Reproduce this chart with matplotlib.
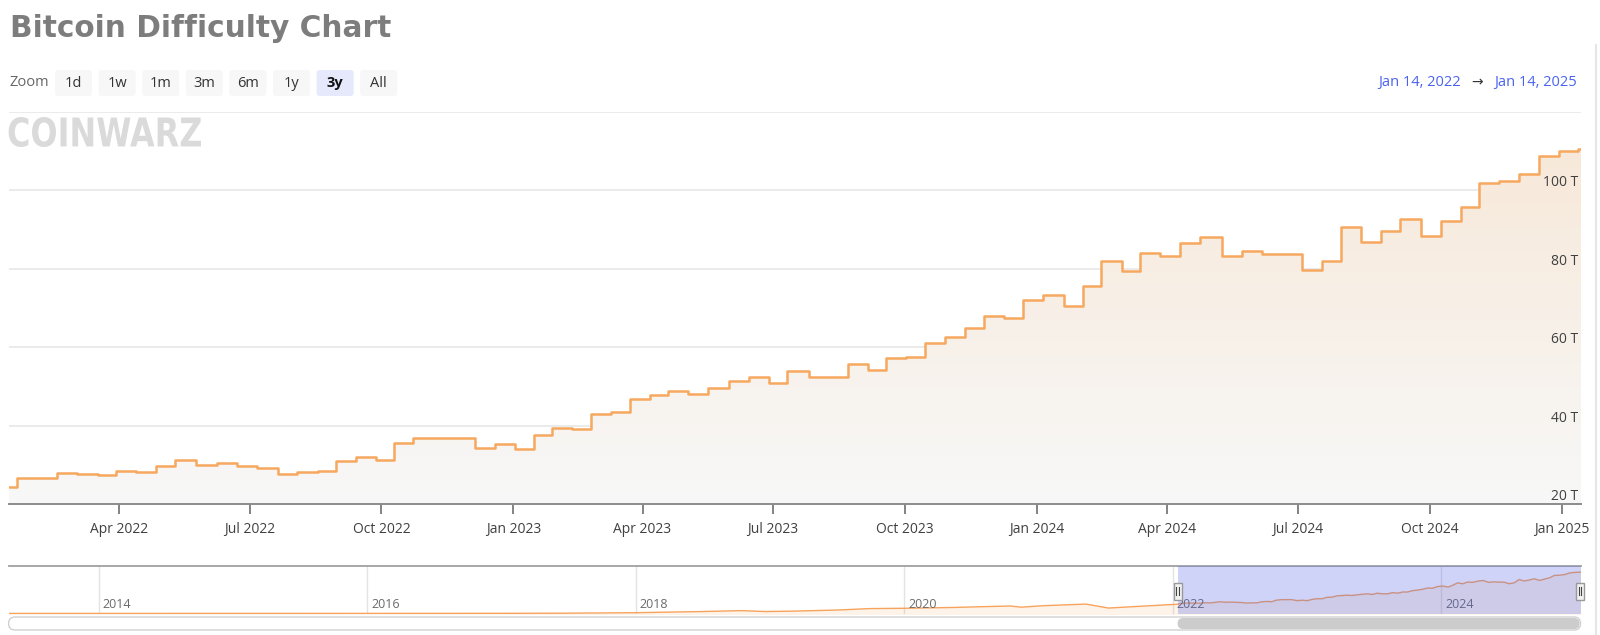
import matplotlib
matplotlib.use("Agg")
import matplotlib.pyplot as plt
import matplotlib.dates as mdates
import matplotlib.transforms as mtransforms
import numpy as np
import pandas as pd
from matplotlib.patches import FancyBboxPatch, Rectangle, PathPatch
from matplotlib.textpath import TextPath
from matplotlib.font_manager import FontProperties
from matplotlib.transforms import Affine2D

W, H, DPI = 1600, 635, 100

# ------------------------------------------------------------------ data
step_dates = [
    "2022-01-14", "2022-01-20", "2022-02-17", "2022-03-03", "2022-03-17", "2022-03-30",
    "2022-04-13", "2022-04-27", "2022-05-10", "2022-05-25", "2022-06-08", "2022-06-22",
    "2022-07-06", "2022-07-21", "2022-08-03", "2022-08-18", "2022-08-30", "2022-09-13",
    "2022-09-27", "2022-10-10", "2022-10-23", "2022-11-20", "2022-12-05", "2022-12-19",
    "2023-01-02", "2023-01-15", "2023-01-28", "2023-02-11", "2023-02-24", "2023-03-10",
    "2023-03-23", "2023-04-06", "2023-04-19", "2023-05-03", "2023-05-17", "2023-05-31",
    "2023-06-14", "2023-06-28", "2023-07-11", "2023-07-26", "2023-08-08", "2023-08-22",
    "2023-09-05", "2023-09-18", "2023-10-02", "2023-10-15", "2023-10-29", "2023-11-12",
    "2023-11-25", "2023-12-09", "2023-12-22", "2024-01-05", "2024-01-20", "2024-02-02",
    "2024-02-15", "2024-02-29", "2024-03-13", "2024-03-27", "2024-04-10", "2024-04-24",
    "2024-05-09", "2024-05-23", "2024-06-06", "2024-06-20", "2024-07-04", "2024-07-18",
    "2024-07-31", "2024-08-14", "2024-08-28", "2024-09-10", "2024-09-25", "2024-10-09",
    "2024-10-23", "2024-11-04", "2024-11-18", "2024-12-02", "2024-12-16", "2024-12-30",
    "2025-01-12",
]
difficulty_t = [
    24.5, 26.7, 28.0, 27.6, 27.5, 28.6,
    28.2, 29.8, 31.3, 29.9, 30.4, 29.7,
    29.3, 27.8, 28.3, 28.4, 31.0, 32.1,
    31.4, 35.6, 36.9, 37.0, 34.3, 35.4,
    34.2, 37.6, 39.4, 39.2, 43.1, 43.6,
    46.9, 47.9, 48.8, 48.1, 49.7, 51.3,
    52.5, 50.8, 54.0, 52.5, 52.4, 55.7,
    54.2, 57.3, 57.4, 61.0, 62.6, 64.8,
    68.0, 67.5, 72.0, 73.3, 70.5, 75.6,
    81.9, 79.4, 84.1, 83.2, 86.5, 88.2,
    83.2, 84.6, 83.8, 83.7, 79.6, 82.0,
    90.7, 86.9, 89.6, 92.7, 88.4, 92.2,
    95.7, 101.8, 102.3, 104.1, 108.6, 109.9,
    110.5,
]

# long history shown in the navigator (before the 3y window)
nav_hist_dates = [
    "2013-05-01", "2014-01-01", "2015-01-01", "2016-01-01", "2017-01-01", "2017-07-01",
    "2018-01-01", "2018-07-01", "2018-10-15", "2018-12-20", "2019-03-01", "2019-07-01",
    "2019-10-01", "2020-01-01", "2020-05-15", "2020-07-01", "2020-10-15", "2020-11-15",
    "2021-01-15", "2021-05-10", "2021-07-10", "2021-10-01", "2022-01-01",
]
nav_hist_t = [
    0.0, 0.0, 0.04, 0.1, 0.3, 0.7,
    2.0, 5.1, 7.5, 5.1, 6.1, 9.0,
    13.0, 13.8, 16.0, 17.3, 19.9, 16.8,
    20.8, 25.0, 14.4, 19.0, 24.0,
]

x_tick_dates = ["2022-04-01", "2022-07-01", "2022-10-01", "2023-01-01", "2023-04-01",
                "2023-07-01", "2023-10-01", "2024-01-01", "2024-04-01", "2024-07-01",
                "2024-10-01", "2025-01-01"]
y_ticks = [20, 40, 60, 80, 100, 120]
y_labels = ["20 T", "40 T", "60 T", "80 T", "100 T", ""]
nav_years = [2014, 2016, 2018, 2020, 2022, 2024]
zoom_buttons = ["1d", "1w", "1m", "3m", "6m", "1y", "3y", "All"]
selected_button = "3y"
title_text = "Bitcoin Difficulty Chart"
logo_text = "COINWARZ"
range_start_label = "Jan 14, 2022"
range_end_label = "Jan 14, 2025"
view_start, view_end = "2022-01-14", "2025-01-14"
nav_start = "2013-05-01"

# ------------------------------------------------------------------ style
BODY = "Open Sans"
LINE_C = "#f6a85f"
plt.rcParams["font.family"] = [BODY, "DejaVu Sans"]

fig = plt.figure(figsize=(W / DPI, H / DPI), dpi=DPI, facecolor="white")


def fx(px):
    return px / W


def fy(py):
    return 1 - py / H


PL, PR, PT, PB = 8.6, 1580.5, 111.7, 504.3

# ------------------------------------------------------------------ main chart
ax = fig.add_axes([fx(PL), fy(PB), (PR - PL) / W, (PB - PT) / H])
ax.patch.set_alpha(0)

d = pd.to_datetime(step_dates)
xs = mdates.date2num(list(d) + [pd.Timestamp(view_end)])
ys = np.array(difficulty_t + [difficulty_t[-1]])

x0 = mdates.date2num(pd.Timestamp(view_start))
x1 = mdates.date2num(pd.Timestamp(view_end))

for v in y_ticks:
    ax.axhline(v, color="#e6e6e6", lw=1.1, zorder=1)

poly = ax.fill_between(xs, ys, 20, step="post", facecolor="none", edgecolor="none")
grad = np.zeros((256, 1, 4))
t = np.linspace(0, 1, 256)[:, None]
bottom = np.array([248, 248, 248]) / 255
top = np.array([247, 231, 214]) / 255
grad[:, 0, :3] = bottom + (top - bottom) * t
grad[:, 0, 3] = 1
im = ax.imshow(grad, extent=[x0, x1, 20, 120], origin="lower", aspect="auto",
               zorder=2, interpolation="bilinear")
im.set_clip_path(poly.get_paths()[0], transform=ax.transData)

ax.plot(xs, ys, drawstyle="steps-post", color=LINE_C, lw=1.8, zorder=3,
        solid_joinstyle="round", solid_capstyle="round")

ax.set_xlim(x0, x1)
ax.set_ylim(20, 120)
for s in ("top", "left", "right"):
    ax.spines[s].set_visible(False)
ax.spines["bottom"].set_color("#8c8c8c")
ax.spines["bottom"].set_linewidth(1.4)
ax.spines["bottom"].set_zorder(5)

tick_x = mdates.date2num(pd.to_datetime(x_tick_dates))
ax.set_xticks(tick_x)
ax.set_xticklabels([pd.Timestamp(s).strftime("%b %Y") for s in x_tick_dates])
ax.tick_params(axis="x", direction="out", length=7.5, width=1.2, color="#6e6e6e",
               pad=5.5, labelsize=10, labelcolor="#404040")
ax.set_yticks([])

blend = mtransforms.blended_transform_factory(ax.transAxes, ax.transData)
for v, lab in zip(y_ticks, y_labels):
    if not lab:
        continue
    tr = mtransforms.offset_copy(blend, fig=fig, x=-2, y=7.5, units="dots")
    ax.text(1, v, lab, transform=tr, ha="right", va="center", fontsize=10,
            color="#404040", zorder=6)

# ------------------------------------------------------------------ navigator
NT, NB = 566, 614
nav = fig.add_axes([fx(PL), fy(NB), (PR - PL) / W, (NB - NT) / H])
nav.patch.set_alpha(0)
nd = list(pd.to_datetime(nav_hist_dates)) + list(d) + [pd.Timestamp(view_end)]
nx = mdates.date2num(nd)
ny = np.array(nav_hist_t + difficulty_t + [difficulty_t[-1]])
nav.fill_between(nx, ny, -4, color="#f7a35c", alpha=0.13, lw=0, zorder=2)
nav.plot(nx, ny, color="#f7a35c", lw=1.0, zorder=3)
for yr in nav_years:
    xv = mdates.date2num(pd.Timestamp(f"{yr}-01-01"))
    nav.axvline(xv, color="#e3e3e3", lw=1, zorder=1)
    tr = mtransforms.offset_copy(
        mtransforms.blended_transform_factory(nav.transData, nav.transAxes),
        fig=fig, x=4, y=0, units="dots")
    nav.text(xv, 0.19, str(yr), transform=tr, ha="left", va="center", fontsize=9,
             color="#6a6a6a", zorder=3)
nav.axvspan(x0, x1, color=(85 / 255, 100 / 255, 230 / 255), alpha=0.28, lw=0, zorder=4)
nav.set_xlim(mdates.date2num(pd.Timestamp(nav_start)), x1)
nav.set_ylim(-1.5, 127)
nav.set_xticks([])
nav.set_yticks([])
for s in ("bottom", "left", "right"):
    nav.spines[s].set_visible(False)
nav.spines["top"].set_color("#a0a0a0")
nav.spines["top"].set_linewidth(1.3)

# ------------------------------------------------------------------ overlay (pixel space)
ov = fig.add_axes([0, 0, 1, 1], zorder=20)
ov.set_xlim(0, W)
ov.set_ylim(H, 0)
ov.axis("off")
ov.patch.set_alpha(0)

renderer = fig.canvas.get_renderer()


def fit_width(txt, target):
    bb = txt.get_window_extent(renderer)
    txt.set_fontsize(txt.get_fontsize() * target / bb.width)


tt = ov.text(10, 36.7, title_text, fontsize=20, fontweight="bold",
             family=["DejaVu Sans"], color="#7d7d7d", va="baseline", ha="left")
fit_width(tt, 382)

# logo
tp = TextPath((0, 0), logo_text, size=1, prop=FontProperties(family="DejaVu Sans", weight="bold"))
ext = tp.get_extents()
lx0, lx1, ly0, ly1 = 8.6, 201, 117, 147
trf = (Affine2D().translate(-ext.x0, -ext.y0)
       .scale((lx1 - lx0) / ext.width, -(ly1 - ly0) / ext.height)
       .translate(lx0, ly1))
ov.add_patch(PathPatch(trf.transform_path(tp), facecolor="#dadada", lw=0))

# zoom buttons
ov.text(10, 83, "Zoom", fontsize=10.5, color="#666666", va="center", ha="left")
bx = 55.0
for lab in zoom_buttons:
    sel = lab == selected_button
    ov.add_patch(FancyBboxPatch((bx, 70), 37, 26,
                                boxstyle="round,pad=0,rounding_size=3",
                                facecolor="#e6e9fc" if sel else "#f7f7f7", lw=0))
    ov.text(bx + 18.5, 83.5, lab, fontsize=10.5, ha="center", va="center",
            color="#111111" if sel else "#333333",
            fontweight="bold" if sel else "normal")
    bx += 43.6

# range labels
ov.text(1377.7, 82.5, range_start_label, fontsize=10.5, color="#4a63ef", ha="left", va="center")
ov.text(1477.5, 82.5, "\u2192", fontsize=10, color="#333333", ha="center", va="center",
        family=["DejaVu Sans"])
ov.text(1576.5, 82.5, range_end_label, fontsize=10.5, color="#4a63ef", ha="right", va="center")

# navigator handles
for hx in (1177.6, 1580.0):
    ov.add_patch(Rectangle((hx - 4, 582.5), 8, 17, facecolor="#f2f2f2", edgecolor="#999999", lw=1))
    for dx in (-1.3, 1.3):
        ov.plot([hx + dx, hx + dx], [587, 595], color="#444444", lw=0.8)

# scrollbar
ov.add_patch(FancyBboxPatch((PL, 617), PR - PL, 13,
                            boxstyle="round,pad=0,rounding_size=6.5",
                            facecolor="white", edgecolor="#d0d0d0", lw=1))
ov.add_patch(FancyBboxPatch((1177.6, 618), PR - 1177.6 - 1, 11,
                            boxstyle="round,pad=0,rounding_size=5.5",
                            facecolor="#cccccc", lw=0))

# page edge
ov.plot([1596, 1596], [45, H], color="#e6e6e6", lw=1.5)

fig.savefig("out.png", dpi=DPI, facecolor="white")
